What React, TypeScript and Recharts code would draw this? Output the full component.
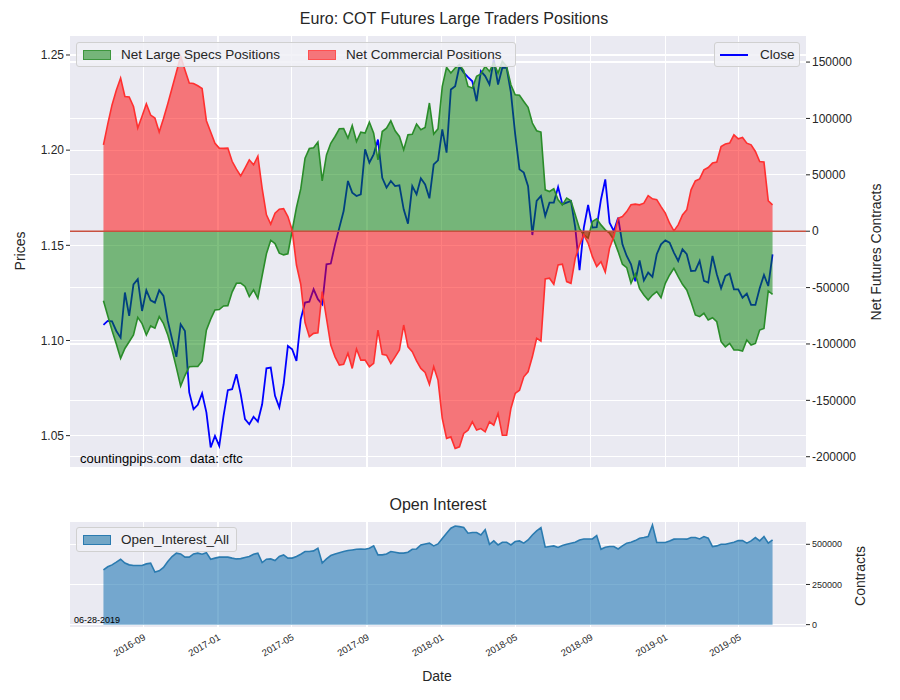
import { ComposedChart, Line, Area, XAxis, YAxis, CartesianGrid, ReferenceLine } from 'recharts';

// weekly COT report dates (Tuesdays), first one 2016-06-28
const START = Date.UTC(2016, 5, 28);
const WEEK = 7 * 86400000;
const DAY = 86400000;

const closePrices = [
  1.1082, 1.1103, 1.1100, 1.1050, 1.1015, 1.1252, 1.1129, 1.1295, 1.1322, 1.1155,
  1.1264, 1.1211, 1.1199, 1.1264, 1.1234, 1.1103, 1.1007, 1.0914, 1.1085, 1.1050,
  1.0727, 1.0639, 1.0662, 1.0722, 1.0622, 1.0438, 1.0499, 1.0446, 1.0604, 1.0739,
  1.0744, 1.0823, 1.0718, 1.0587, 1.0560, 1.0599, 1.0574, 1.0665, 1.0854, 1.0858,
  1.0709, 1.0648, 1.0770, 1.0971, 1.0954, 1.0893, 1.1112, 1.1199, 1.1204, 1.1269,
  1.1217, 1.1190, 1.1400, 1.1404, 1.1505, 1.1593, 1.1680, 1.1838, 1.1777, 1.1759,
  1.1768, 1.2004, 1.1934, 1.1978, 1.2056, 1.1855, 1.1803, 1.1838, 1.1811, 1.1815,
  1.1689, 1.1614, 1.1811, 1.1768, 1.1852, 1.1820, 1.1747, 1.1925, 1.1946, 1.2109,
  1.1987, 1.2319, 1.2336, 1.2441, 1.2407, 1.2384, 1.2362, 1.2257, 1.2415, 1.2389,
  1.2345, 1.2476, 1.2345, 1.2433, 1.2433, 1.2302, 1.2083, 1.1899, 1.1882, 1.1811,
  1.1554, 1.1733, 1.1759, 1.1654, 1.1724, 1.1724, 1.1806, 1.1715, 1.1724, 1.1733,
  1.1593, 1.1369, 1.1593, 1.1712, 1.1593, 1.1595, 1.1741, 1.1846, 1.1619, 1.1575,
  1.1645, 1.1505, 1.1444, 1.1400, 1.1311, 1.1420, 1.1316, 1.1357, 1.1334, 1.1453,
  1.1505, 1.1526, 1.1514, 1.1462, 1.1418, 1.1479, 1.1453, 1.1365, 1.1367, 1.1418,
  1.1313, 1.1304, 1.1444, 1.1348, 1.1274, 1.1339, 1.1351, 1.1269, 1.1269, 1.1225,
  1.1246, 1.1187, 1.1187, 1.1274, 1.1344, 1.1286, 1.1453,
];

const netSpecs = [
  -61600, -75000, -88000, -100000, -112800, -104000, -98000, -92100, -76400, -82000,
  -92100, -84000, -86000, -75800, -82000, -92000, -105400, -121000, -137400, -128000,
  -120200, -120000, -120000, -115000, -87700, -78000, -69900, -69500, -66300, -66000,
  -54000, -46200, -46000, -49000, -58000, -52000, -59500, -39500, -20000, -8000,
  -11000, -19500, -21000, -20000, 500, 21000, 37500, 64800, 73300, 74000,
  79000, 44600, 67700, 78000, 84000, 90800, 91000, 82500, 93700, 79500,
  87800, 87000, 96700, 87000, 63300, 88400, 91400, 97900, 89000, 84000,
  72200, 85500, 86000, 95000, 90000, 92000, 113700, 86100, 90800, 128400,
  145300, 140300, 144700, 147700, 142400, 128400, 127000, 137300, 139400, 146200,
  141700, 149200, 140300, 150600, 146200, 129900, 121000, 120500, 115100, 109800,
  95900, 89100, 87900, 36700, 35200, 37600, 27800, 23400, 29300, 26900,
  14500, 2100, -3300, -6200, 8500, 10900, 5600, 1200, -1800, -7700,
  -18100, -29300, -32300, -46200, -38000, -51000, -56600, -61000, -56600, -53600,
  -59000, -46200, -38800, -32900, -40300, -47100, -52100, -62500, -74300, -75800,
  -72800, -78800, -76700, -80300, -98000, -102500, -99500, -105400, -105400, -106300,
  -96500, -101000, -99500, -87700, -86200, -53000, -56000,
];

const netCommercial = [
  76600, 95000, 112000, 125000, 135800, 119500, 119000, 110600, 91500, 102000,
  113000, 103000, 100300, 88000, 100000, 113000, 127000, 141000, 155000, 143000,
  131400, 131000, 129000, 126500, 98000, 88000, 78000, 73700, 73500, 73700,
  62000, 55000, 49000, 56000, 63300, 58900, 66500, 38000, 14500, 6300,
  16000, 19500, 20000, 13000, 1000, -30000, -47000, -81000, -93600, -90600,
  -90000, -53600, -77300, -101000, -111400, -118700, -118000, -108300, -121700, -104500,
  -114300, -114300, -120200, -117200, -87700, -109200, -110000, -117200, -111400, -105400,
  -83200, -102500, -106900, -115000, -121700, -125200, -135900, -120200, -132000, -166100,
  -183800, -182400, -192700, -191200, -179300, -176400, -169000, -176400, -175000, -177900,
  -169000, -172000, -161600, -180900, -181000, -157200, -143900, -141000, -129100, -124700,
  -111400, -95000, -97400, -42300, -41700, -47100, -29900, -29300, -44700, -46200,
  -24000, -12200, -3300, -10700, -22600, -31400, -27000, -36400, -15100, -4800,
  11500, 13000, 17400, 23400, 24000, 23400, 24900, 31600, 28700, 28000,
  21800, 16000, 7100, 300, 5600, 14500, 18900, 36700, 44600, 46400,
  54400, 56500, 60400, 61300, 75100, 77300, 78100, 85500, 82000, 83100,
  78100, 76600, 70700, 61800, 61300, 26900, 23400,
];

const openInterest = [
  341000, 360000, 372000, 389000, 407000, 383000, 372000, 368000, 368000, 368000,
  378000, 383000, 327000, 335000, 356000, 393000, 424000, 445000, 440000, 420000,
  420000, 440000, 445000, 438000, 448000, 407000, 414000, 420000, 420000, 420000,
  414000, 409000, 411000, 418000, 424000, 438000, 445000, 386000, 407000, 409000,
  399000, 424000, 434000, 414000, 414000, 424000, 438000, 455000, 455000, 459000,
  476000, 383000, 409000, 430000, 440000, 448000, 455000, 461000, 465000, 469000,
  471000, 469000, 476000, 490000, 434000, 434000, 440000, 455000, 451000, 445000,
  445000, 451000, 469000, 471000, 496000, 502000, 507000, 490000, 502000, 536000,
  569000, 600000, 614000, 610000, 604000, 569000, 573000, 573000, 558000, 591000,
  500000, 521000, 496000, 513000, 513000, 496000, 517000, 521000, 507000, 527000,
  558000, 583000, 604000, 482000, 486000, 490000, 480000, 492000, 500000, 507000,
  513000, 527000, 533000, 533000, 533000, 554000, 469000, 482000, 486000, 486000,
  471000, 490000, 507000, 513000, 523000, 538000, 542000, 548000, 620000, 511000,
  511000, 511000, 521000, 532000, 533000, 533000, 532000, 542000, 542000, 533000,
  548000, 538000, 486000, 490000, 500000, 500000, 507000, 513000, 523000, 523000,
  507000, 521000, 542000, 521000, 548000, 507000, 527000,
];

const monthTicks = ['2016-09', '2017-01', '2017-05', '2017-09', '2018-01', '2018-05', '2018-09', '2019-01', '2019-05'];
const priceTicks = [1.05, 1.1, 1.15, 1.2, 1.25];
const netTicks = [-200000, -150000, -100000, -50000, 0, 50000, 100000, 150000];
const oiTicks = [0, 250000, 500000];

const data = closePrices.map((close, i) => ({
  date: START + i * WEEK,
  close,
  specs: netSpecs[i],
  commercial: netCommercial[i],
  oi: openInterest[i],
}));

const END = data[data.length - 1].date;
const xDomain = [START - 54.6 * DAY, END + 54.6 * DAY];
const xTicks = monthTicks.map((m) => Date.UTC(+m.slice(0, 4), +m.slice(5) - 1, 1));
const fmtMonth = (t: number) => {
  const d = new Date(t);
  return `${d.getUTCFullYear()}-${String(d.getUTCMonth() + 1).padStart(2, '0')}`;
};

const FONT = '"Liberation Sans", Arial, sans-serif';
const TXT = '#262626';
const BG = '#EAEAF2';

const DateTick = (props: any) => {
  const { x, y, payload } = props;
  return (
    <text x={x} y={y} dy={6} transform={`rotate(-30 ${x} ${y})`} textAnchor="end" fontSize={9.5} fill={TXT} fontFamily={FONT}>
      {fmtMonth(payload.value)}
    </text>
  );
};

const legendBox = {
  position: 'absolute' as const,
  background: 'rgba(240,240,246,0.85)',
  border: '1px solid #d0d0d0',
  borderRadius: 3,
  display: 'flex',
  alignItems: 'center',
  fontSize: 13.5,
  color: TXT,
  boxSizing: 'border-box' as const,
};

// white month gridlines, kept below the series
const monthLines = (yAxisId: string) =>
  xTicks.map((t) => (
    <ReferenceLine key={t} x={t} yAxisId={yAxisId} stroke="#fff" strokeWidth={1.2} shapeRendering="crispEdges" zIndex={-50} />
  ));

export default function App() {
  return (
    <div style={{ position: 'absolute', left: 0, top: 0, width: 900, height: 700, background: '#fff', fontFamily: FONT }}>
      <div style={{ position: 'absolute', left: 0, width: 900, top: 10, textAlign: 'center', fontSize: 16, color: TXT, paddingLeft: 4 }}>
        Euro: COT Futures Large Traders Positions
      </div>

      <div style={{ position: 'absolute', top: 0 }}>
        <ComposedChart width={900} height={480} data={data} margin={{ top: 35, right: 24, bottom: 11, left: 20 }}>
          <CartesianGrid yAxisId="left" vertical={false} fill={BG} stroke="#fff" strokeWidth={1.2} shapeRendering="crispEdges" />
          <CartesianGrid yAxisId="right" vertical={false} fill="none" stroke="#fff" strokeWidth={1.2} shapeRendering="crispEdges" />
          <XAxis
            dataKey="date"
            type="number"
            domain={xDomain}
            ticks={xTicks}
            interval={0}
            height={1}
            tick={false}
            axisLine={false}
            tickLine={false}
          />
          <YAxis
            yAxisId="left"
            width={50}
            domain={[1.033, 1.2605]}
            ticks={priceTicks}
            tickFormatter={(v) => v.toFixed(2)}
            axisLine={false}
            tickSize={4}
            tickLine={{ stroke: TXT }}
            tick={{ fontSize: 12, fill: TXT, fontFamily: FONT }}
            allowDataOverflow
          />
          <YAxis
            yAxisId="right"
            orientation="right"
            width={70}
            domain={[-210000, 174000]}
            ticks={netTicks}
            axisLine={false}
            tickSize={4}
            tickLine={{ stroke: TXT }}
            tick={{ fontSize: 12, fill: TXT, fontFamily: FONT }}
            allowDataOverflow
          />
          {monthLines('right')}
          <Line yAxisId="left" dataKey="close" stroke="#0000ff" strokeWidth={1.8} dot={false} isAnimationActive={false} zIndex={50} />
          <Area yAxisId="right" dataKey="specs" baseValue={0} stroke="#2a8c2a" strokeWidth={1.6} fill="#008000" fillOpacity={0.5} isAnimationActive={false} zIndex={100} />
          <Area yAxisId="right" dataKey="commercial" baseValue={0} stroke="#ff3030" strokeWidth={1.6} fill="#ff0000" fillOpacity={0.5} isAnimationActive={false} zIndex={100} />
          <ReferenceLine yAxisId="right" y={0} stroke="#c8503f" strokeWidth={1.4} />
        </ComposedChart>
      </div>

      <div style={{ ...legendBox, left: 76, top: 42, width: 440, height: 25 }}>
        <span style={{ width: 28, height: 10, background: '#75b579', border: '1px solid #3d963d', marginLeft: 6, boxSizing: 'border-box' }} />
        <span style={{ marginLeft: 10 }}>Net Large Specs Positions</span>
        <span style={{ width: 28, height: 10, background: '#f5757a', border: '1px solid #ff5050', marginLeft: 28, boxSizing: 'border-box' }} />
        <span style={{ marginLeft: 10 }}>Net Commercial Positions</span>
      </div>
      <div style={{ ...legendBox, left: 714, top: 42, width: 86, height: 25 }}>
        <span style={{ width: 28, height: 2, background: '#0000ff', marginLeft: 5 }} />
        <span style={{ marginLeft: 12 }}>Close</span>
      </div>

      <div style={{ position: 'absolute', left: 80, top: 451, fontSize: 13, color: '#000' }}>countingpips.com</div>
      <div style={{ position: 'absolute', left: 190, top: 451, fontSize: 13, color: '#000' }}>data: cftc</div>

      <div style={{ position: 'absolute', left: 20, top: 251, transform: 'translate(-50%,-50%) rotate(-90deg)', fontSize: 14, color: TXT, whiteSpace: 'nowrap' }}>
        Prices
      </div>
      <div style={{ position: 'absolute', left: 876, top: 252, transform: 'translate(-50%,-50%) rotate(-90deg)', fontSize: 14, color: TXT, whiteSpace: 'nowrap' }}>
        Net Futures Contracts
      </div>

      <div style={{ position: 'absolute', left: 0, width: 900, top: 496, textAlign: 'center', fontSize: 16, color: TXT }}>
        <span style={{ position: 'relative', left: -12 }}>Open Interest</span>
      </div>

      <div style={{ position: 'absolute', top: 480 }}>
        <ComposedChart width={900} height={220} data={data} margin={{ top: 41, right: 34, bottom: 32, left: 70 }}>
          <CartesianGrid yAxisId="oi" vertical={false} fill={BG} stroke="#fff" strokeWidth={1.2} shapeRendering="crispEdges" />
          <XAxis
            dataKey="date"
            type="number"
            domain={xDomain}
            ticks={xTicks}
            interval={0}
            height={40}
            axisLine={false}
            tickLine={false}
            tickSize={4}
            tick={<DateTick />}
          />
          <YAxis
            yAxisId="oi"
            orientation="right"
            width={60}
            domain={[-21000, 645000]}
            ticks={oiTicks}
            axisLine={false}
            tickSize={4}
            tickLine={{ stroke: TXT }}
            tick={{ fontSize: 9, fill: TXT, fontFamily: FONT }}
            allowDataOverflow
          />
          {monthLines('oi')}
          <Area yAxisId="oi" dataKey="oi" baseValue={0} stroke="#2b7bb0" strokeWidth={1.6} fill="#1f77b4" fillOpacity={0.58} isAnimationActive={false} />
        </ComposedChart>
      </div>

      <div style={{ ...legendBox, left: 76, top: 527, width: 161, height: 25 }}>
        <span style={{ width: 28, height: 10, background: '#72a6c6', border: '1px solid #2b7bb0', marginLeft: 6, boxSizing: 'border-box' }} />
        <span style={{ marginLeft: 10 }}>Open_Interest_All</span>
      </div>
      <div style={{ position: 'absolute', left: 74, top: 615, fontSize: 9, color: '#000' }}>06-28-2019</div>

      <div style={{ position: 'absolute', left: 860, top: 576, transform: 'translate(-50%,-50%) rotate(-90deg)', fontSize: 14, color: TXT, whiteSpace: 'nowrap' }}>
        Contracts
      </div>
      <div style={{ position: 'absolute', left: 0, width: 900, top: 668, textAlign: 'center', fontSize: 14, color: TXT }}>
        <span style={{ position: 'relative', left: -13 }}>Date</span>
      </div>
    </div>
  );
}
